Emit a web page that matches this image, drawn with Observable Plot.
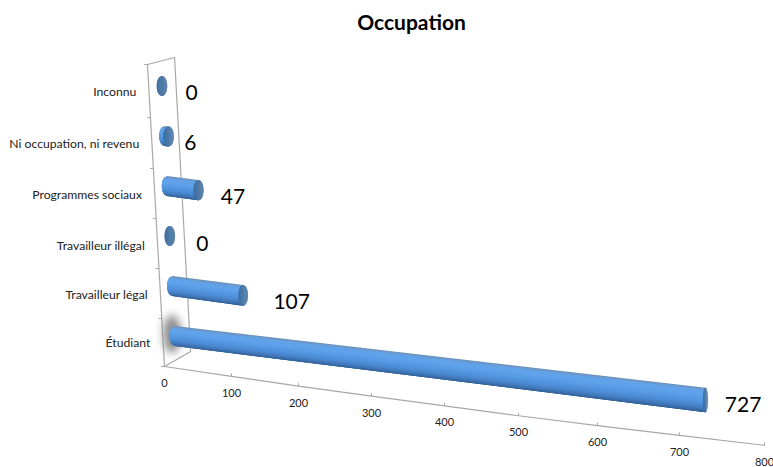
<!DOCTYPE html>
<html><head><meta charset="utf-8">
<style>
html,body{margin:0;padding:0;background:#fff}
svg{display:block}
.halo{filter:blur(4px)}
</style>
<script src="https://cdn.jsdelivr.net/npm/d3@7"></script>
<script src="https://cdn.jsdelivr.net/npm/@observablehq/plot@0.6"></script>
</head><body>
<script>
const categories = ["Étudiant","Travailleur légal","Travailleur illégal","Programmes sociaux","Ni occupation, ni revenu","Inconnu"];
const values = [727,107,0,47,6,0];
const axisTicks = [0,100,200,300,400,500,600,700,800];
const title = "Occupation";

// layout of the perspective drawing
const tickPx = [164,231,298,371,444,518,597,679,764];
const bandColors = ["#6f90b4","#62a3ea","#5fa2ea","#599de6","#5294de","#4b8ad2","#4279bb","#315f93"];
const capColors = ["#3d6ea8","#43729f","#4d79a8","#5680ab","#5a82aa"];
const labelShift = [-1,15,-9,-6,-25,-13];    // value labels, value units
const labelLift = [-2,-1,1,0,-1,0];
const labelRowY = [343,295,246,195,144,92];  // category labels, px
const rowX = i => 16.4 - 3.9*i;              // start of bar, in value units
const rowY = i => 336 - 50*i;                // centre of bar start, px
const barX = (v,i) => v + rowX(i)*(1 - v*0.00103);
const barY = (v,i) => rowY(i) + v*0.088;
const barRy = v => 10 + v*0.0032;
const barRx = v => 8 - v*0.007;
const floorY = v => 366 + v*0.0985;

const color = d3.piecewise(d3.interpolateRgb, bandColors);
const capColor = d3.piecewise(d3.interpolateRgb, capColors);
const strips = [], caps = [];
const N = 30, M = 10;
values.forEach((v,i) => {
  if (v > 0) for (let k=0;k<N;k++){
    const a=-1+2*k/N, b=Math.min(1,-1+2*(k+3)/N), c=color((k+.5)/N);
    const rx0=barRx(0), ry0=barRy(0), ry1=barRy(v);
    const x0=barX(0,i), x1=barX(v,i), y0=barY(0,i), y1=barY(v,i);
    strips.push(
      {key:i+"-"+k,c,x1:x0-rx0*Math.sqrt(1-a*a),y1:y0+a*ry0,x2:x0-rx0*Math.sqrt(1-b*b),y2:y0+b*ry0},
      {key:i+"-"+k,c,x1,y1:y1+a*ry1,x2:x1,y2:y1+b*ry1}
    );
  }
  // end cap: thin vertical bands of an ellipse, each overlapping the next
  const xe=barX(v,i), ye=barY(v,i), rx=barRx(v), ry=barRy(v);
  for (let k=0;k<M*2;k++){
    const a=-1+k/M, m=Math.min(1,a+1/(2*M)), b=Math.min(1,a+2/M);
    [a,m,b].forEach(t=>caps.push({key:i+"-"+k,c:capColor((k+.5)/(M*2)),x:xe+rx*t,
      y1:ye-ry*Math.sqrt(Math.max(0,1-t*t)),y2:ye+ry*Math.sqrt(Math.max(0,1-t*t))}));
  }
});

// halo behind the first bar
const halo = d3.range(0,41).map(k=>{const t=-1+k/20;const h=19*Math.sqrt(1-t*t);
  return {x:12+13*t,y1:334-h,y2:334+h};});

const wall = [{x:-25.4,y:64},{x:15,y:57},{x:39,y:351},{x:0,y:366},{x:-25.4,y:64}];
const wallTicks = [64,117,168,218,268,318,366].map(y=>{
  const x=-25.4+(y-64)*25.4/302; return {x1:x,x2:x-5,y1:y,y2:y};});
const axisLine = axisTicks.map(v=>({x:v,y:floorY(v)}));

const grey = "#a8a8a8";
const plot = Plot.plot({
  width:773,height:467,margin:0,
  style:{fontFamily:"Lato, sans-serif",background:"#fff",color:"#000"},
  x:{type:"linear",domain:axisTicks,range:tickPx,axis:null},
  y:{type:"linear",domain:[0,467],range:[0,467],axis:null},
  marks:[
    Plot.line(wall,{x:"x",y:"y",stroke:grey,strokeWidth:1.2}),
    Plot.link(wallTicks,{x1:"x1",x2:"x2",y1:"y1",y2:"y2",stroke:grey}),
    Plot.line(axisLine,{x:"x",y:"y",stroke:grey,strokeWidth:1.2}),
    Plot.link(axisTicks,{x1:d=>d,x2:d=>d,y1:d=>floorY(d),y2:d=>floorY(d)-3,stroke:grey}),
    Plot.area(halo,{x1:"x",x2:"x",y1:"y1",y2:"y2",fill:"#8a8a8a",className:"halo"}),
    Plot.area(strips,{x1:"x1",y1:"y1",x2:"x2",y2:"y2",z:"key",fill:"c"}),
    Plot.area(caps,{x1:"x",x2:"x",y1:"y1",y2:"y2",z:"key",fill:"c"}),
    Plot.text(axisTicks,{x:d=>d,y:d=>floorY(d)+17,text:d=>String(d),fontSize:11,fill:"#222"}),
    Plot.text(categories,{x:(d,i)=>-21-i*4.2,y:(d,i)=>labelRowY[i],text:d=>d,textAnchor:"end",fontSize:12.2,fill:"#222"}),
    Plot.text(values,{x:(d,i)=>barX(d,i)+labelShift[i],y:(d,i)=>barY(d,i)+7+labelLift[i],dx:38,text:d=>String(d),fontSize:21,fill:"#000"}),
    Plot.text([title],{frameAnchor:"top",dy:23,dx:24.5,text:d=>d,fontSize:21,fontWeight:"bold",fill:"#000",lineAnchor:"middle"})
  ]
});
document.body.appendChild(plot);
</script>
</body></html>
